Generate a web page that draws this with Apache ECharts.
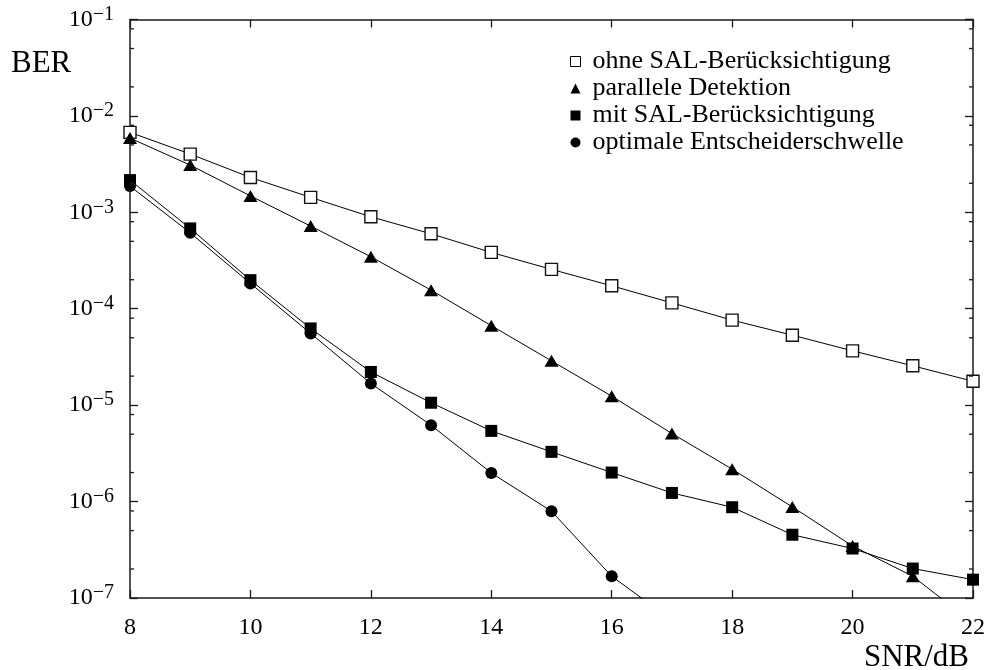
<!DOCTYPE html>
<html>
<head>
<meta charset="utf-8">
<script src="https://cdn.jsdelivr.net/npm/echarts@6/dist/echarts.min.js"></script>
<style>
html,body{margin:0;padding:0;background:#fff;}
#chart{width:990px;height:670px;}
</style>
</head>
<body>
<div id="chart"></div>
<script>
// ---- data ----
const snr = [8, 9, 10, 11, 12, 13, 14, 15, 16, 17, 18, 19, 20, 21, 22];
const berOhne = [6.75e-3, 4.02e-3, 2.30e-3, 1.43e-3, 8.99e-4, 5.99e-4, 3.84e-4, 2.56e-4, 1.73e-4, 1.15e-4, 7.62e-5, 5.32e-5, 3.66e-5, 2.56e-5, 1.77e-5];
const berParallel = [5.89e-3, 3.09e-3, 1.48e-3, 7.20e-4, 3.46e-4, 1.56e-4, 6.68e-5, 2.88e-5, 1.24e-5, 5.08e-6, 2.17e-6, 8.80e-7, 3.46e-7, 1.68e-7, 5.5e-8];
const berMit = [2.16e-3, 6.81e-4, 1.98e-4, 6.25e-5, 2.21e-5, 1.06e-5, 5.41e-6, 3.28e-6, 2.00e-6, 1.23e-6, 8.74e-7, 4.53e-7, 3.26e-7, 2.02e-7, 1.55e-7];
const berOptimal = [1.87e-3, 6.13e-4, 1.83e-4, 5.54e-5, 1.68e-5, 6.20e-6, 1.98e-6, 7.94e-7, 1.68e-7, 5.9e-8];
const seriesNames = ['ohne SAL-Berücksichtigung', 'parallele Detektion', 'mit SAL-Berücksichtigung', 'optimale Entscheiderschwelle'];
const xTicks = [8, 10, 12, 14, 16, 18, 20, 22];
const yMinorTicks = [8e-2, 5e-2, 2e-2, 8e-3, 5e-3, 2e-3, 8e-4, 5e-4, 2e-4, 8e-5, 5e-5, 2e-5, 8e-6, 5e-6, 2e-6, 8e-7, 5e-7, 2e-7];
const yLabel = 'BER';
const xLabel = 'SNR/dB';

const pair = (xs, ys) => ys.map((v, i) => [xs[i], v]);
const FONT = "'Liberation Serif', 'DejaVu Serif', serif";
const AX = '#1a1a1a';

const chart = echarts.init(document.getElementById('chart'), null, {renderer: 'canvas'});

const commonLine = {type: 'line', lineStyle: {color: '#000', width: 1}, showSymbol: true, animation: false, z: 3};

const option = {
  animation: false,
  backgroundColor: '#fff',
  title: [
    {text: yLabel, left: 11, top: 48, padding: 0, textStyle: {fontFamily: FONT, fontSize: 31, fontWeight: 'normal', color: '#000', lineHeight: 31}},
    {text: xLabel, right: 21, top: 642, padding: 0, textStyle: {fontFamily: FONT, fontSize: 31, fontWeight: 'normal', color: '#000', lineHeight: 31}}
  ],
  grid: {left: 130, right: 17, top: 19.5, bottom: 72},
  legend: {
    orient: 'vertical', left: 570, top: 48.5, padding: 0, itemGap: 1,
    itemWidth: 10, itemHeight: 10,
    textStyle: {fontFamily: FONT, fontSize: 26, color: '#000', lineHeight: 26, padding: [0, 0, 0, 7]},
    data: [
      {name: seriesNames[0], icon: 'rect', itemStyle: {color: '#fff', borderColor: '#000', borderWidth: 1}},
      {name: seriesNames[1], icon: 'triangle', itemStyle: {color: '#000', borderWidth: 0}},
      {name: seriesNames[2], icon: 'rect', itemStyle: {color: '#000', borderWidth: 0}},
      {name: seriesNames[3], icon: 'circle', itemStyle: {color: '#000', borderWidth: 0}}
    ]
  },
  xAxis: [
    {type: 'value', min: 8, max: 22, interval: 2, position: 'bottom',
     axisLine: {show: true, lineStyle: {color: AX, width: 1.5}},
     axisTick: {show: true, inside: true, length: 8, lineStyle: {color: AX, width: 1.3}},
     axisLabel: {margin: 18, fontFamily: FONT, fontSize: 24, color: '#000', lineHeight: 24},
     splitLine: {show: false}},
    {type: 'value', min: 8, max: 22, interval: 2, position: 'top',
     axisLine: {show: true, lineStyle: {color: AX, width: 1.5}},
     axisTick: {show: true, inside: true, length: 8, lineStyle: {color: AX, width: 1.3}},
     axisLabel: {show: false}, splitLine: {show: false}}
  ],
  yAxis: [
    {type: 'log', logBase: 10, min: 1e-7, max: 1e-1, splitNumber: 6, position: 'left',
     axisLine: {show: true, lineStyle: {color: AX, width: 1.5}},
     axisTick: {show: true, inside: true, length: 8, lineStyle: {color: AX, width: 1.3}},
     axisLabel: {
       margin: 16, color: '#000',
       formatter: function (v) { const e = Math.round(Math.log10(v)); return '{b|10}{s|\u2212' + Math.abs(e) + '}'; },
       rich: {
         b: {fontFamily: FONT, fontSize: 24, lineHeight: 30, color: '#000'},
         s: {fontFamily: FONT, fontSize: 20, lineHeight: 20, color: '#000', verticalAlign: 'top'}
       }
     },
     splitLine: {show: false}},
    {type: 'log', logBase: 10, min: 1e-7, max: 1e-1, splitNumber: 6, position: 'right',
     axisLine: {show: true, lineStyle: {color: AX, width: 1.5}},
     axisTick: {show: true, inside: true, length: 8, lineStyle: {color: AX, width: 1.3}},
     axisLabel: {show: false}, splitLine: {show: false}}
  ],
  series: [
    Object.assign({}, commonLine, {name: seriesNames[0], data: pair(snr, berOhne), symbol: 'rect', symbolSize: 12,
      itemStyle: {color: '#fff', borderColor: '#111', borderWidth: 1.4}}),
    Object.assign({}, commonLine, {name: seriesNames[1], data: pair(snr, berParallel), symbol: 'triangle', symbolSize: [14, 12],
      itemStyle: {color: '#000'}}),
    Object.assign({}, commonLine, {name: seriesNames[2], data: pair(snr, berMit), symbol: 'rect', symbolSize: 12,
      itemStyle: {color: '#000'}}),
    Object.assign({}, commonLine, {name: seriesNames[3], data: pair(snr, berOptimal), symbol: 'circle', symbolSize: 12,
      itemStyle: {color: '#000'}}),
    {
      type: 'custom', name: 'minorTicks', silent: true, animation: false, clip: false, z: 5,
      data: yMinorTicks.map(v => [8, v]),
      renderItem: function (params, api) {
        const p = api.coord([api.value(0), api.value(1)]);
        const cs = params.coordSys;
        return {type: 'group', children: [
          {type: 'line', shape: {x1: cs.x, y1: p[1], x2: cs.x + 4, y2: p[1]}, style: {stroke: AX, lineWidth: 1.3}},
          {type: 'line', shape: {x1: cs.x + cs.width - 4, y1: p[1], x2: cs.x + cs.width, y2: p[1]}, style: {stroke: AX, lineWidth: 1.3}}
        ]};
      }
    }
  ]
};
chart.setOption(option);
</script>
</body>
</html>
